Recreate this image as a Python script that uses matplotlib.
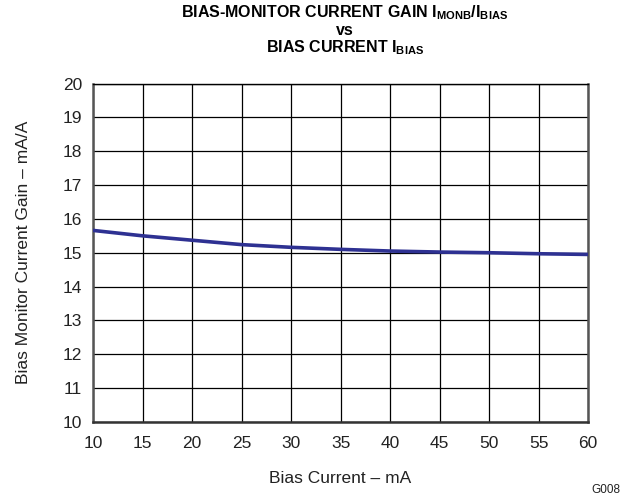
import matplotlib
matplotlib.use('Agg')
import matplotlib.pyplot as plt

bias_ma = [10, 15, 20, 25, 30, 35, 40, 45, 50, 55, 60]
gain = [15.66, 15.5, 15.37, 15.24, 15.16, 15.1, 15.05, 15.02, 15.0, 14.97, 14.95]

x_ticks = [10, 15, 20, 25, 30, 35, 40, 45, 50, 55, 60]
y_ticks = [10, 11, 12, 13, 14, 15, 16, 17, 18, 19, 20]

plt.rcParams['font.family'] = ['Liberation Sans', 'DejaVu Sans']
plt.rcParams['mathtext.fontset'] = 'custom'
plt.rcParams['mathtext.rm'] = 'Liberation Sans'
plt.rcParams['mathtext.bf'] = 'Liberation Sans:bold'

fig = plt.figure(figsize=(6.29, 4.98), dpi=100)
ax = fig.add_axes([0.148, 0.153, 0.787, 0.679])

ax.plot(bias_ma, gain, color='#2e3192', linewidth=2.6, zorder=3)

ax.set_xlim(10, 60)
ax.set_ylim(10, 20)
ax.set_xticks(x_ticks)
ax.set_yticks(y_ticks)
ax.tick_params(length=0, labelsize=12.5, labelcolor='#222222')
ax.tick_params(axis='x', pad=10)
ax.tick_params(axis='y', pad=8)
ax.grid(True, color='black', linewidth=0.9)
for s in ax.spines.values():
    s.set_linewidth(1.0)
    s.set_color('black')
ax.spines['left'].set_linewidth(1.8)
ax.spines['left'].set_color('#555555')
ax.spines['right'].set_linewidth(1.8)
ax.spines['right'].set_color('#555555')
ax.spines['bottom'].set_linewidth(1.8)
ax.spines['bottom'].set_color('#333333')

ax.set_xlabel('Bias Current – mA', fontsize=12.5, color='#222222')
ax.xaxis.set_label_coords(0.5, -0.169)
ax.xaxis.label.set_va('center')
ax.set_ylabel('Bias Monitor Current Gain – mA/A', fontsize=12.5, color='#222222')
ax.yaxis.set_label_coords(-0.141, 0.5)
ax.yaxis.label.set_va('center')

# three title lines, tightly stacked like the original
fig.text(0.548, 0.966, r'BIAS-MONITOR CURRENT GAIN I$_{\mathbf{MONB}}$/I$_{\mathbf{BIAS}}$',
         ha='center', va='baseline', fontsize=11.5, fontweight='bold')
fig.text(0.548, 0.929, 'vs', ha='center', va='baseline', fontsize=11.5, fontweight='bold')
fig.text(0.548, 0.894, r'BIAS CURRENT I$_{\mathbf{BIAS}}$',
         ha='center', va='baseline', fontsize=11.5, fontweight='bold')
fig.text(0.986, 0.016, 'G008', ha='right', va='center', fontsize=8.5, color='#222222')

fig.savefig('out.png', dpi=100)
